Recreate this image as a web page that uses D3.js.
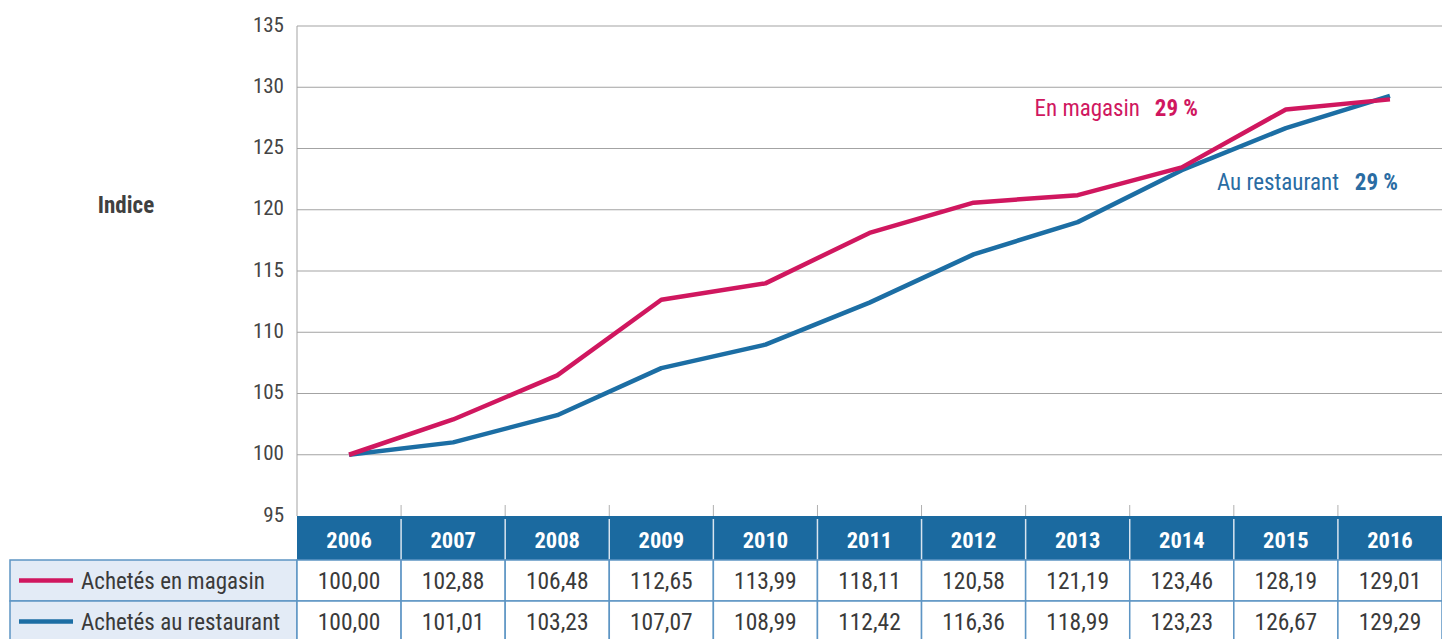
<!DOCTYPE html>
<html>
<head>
<meta charset="utf-8">
<script src="https://cdn.jsdelivr.net/npm/d3@7"></script>
<style>
  body { margin: 0; background: #fff; }
  svg { display: block; font-family: "Liberation Sans Narrow", "Roboto Condensed", "Arial Narrow", sans-serif; }
</style>
</head>
<body>
<svg id="chart" width="1442" height="639"></svg>
<script>
const years = ["2006", "2007", "2008", "2009", "2010", "2011", "2012", "2013", "2014", "2015", "2016"];
const magasin = [100.00, 102.88, 106.48, 112.65, 113.99, 118.11, 120.58, 121.19, 123.46, 128.19, 129.01];
const restaurant = [100.00, 101.01, 103.23, 107.07, 108.99, 112.42, 116.36, 118.99, 123.23, 126.67, 129.29];
const yTicks = [95, 100, 105, 110, 115, 120, 125, 130, 135];
const seriesNames = ["Achetés en magasin", "Achetés au restaurant"];

const pink = "#d0175f";
const blue = "#1c6ea4";
const headBlue = "#1b6aa0";

const svg = d3.select("#chart");
const plotLeft = 297, plotRight = 1442, plotTop = 26, plotBottom = 516;

const x = d3.scaleBand().domain(years).range([plotLeft, plotRight]);
const y = d3.scaleLinear().domain([95, 135]).range([plotBottom, plotTop]);

// grid
svg.append("g").selectAll("line")
  .data(yTicks.slice(1))
  .join("line")
  .attr("x1", plotLeft).attr("x2", plotRight)
  .attr("y1", d => y(d)).attr("y2", d => y(d))
  .attr("stroke", "#a3a3a3").attr("stroke-width", 1);

svg.append("line")
  .attr("x1", plotLeft).attr("x2", plotLeft).attr("y1", plotTop).attr("y2", plotBottom)
  .attr("stroke", "#a3a3a3");

// small tick marks at column boundaries
svg.append("g").selectAll("line")
  .data(years.slice(1))
  .join("line")
  .attr("x1", d => x(d)).attr("x2", d => x(d))
  .attr("y1", plotBottom - 11).attr("y2", plotBottom)
  .attr("stroke", "#b0b0b0");

// y labels
svg.append("g").selectAll("text")
  .data(yTicks)
  .join("text")
  .attr("x", 284).attr("y", d => y(d) - 1)
  .attr("dy", "0.32em")
  .attr("text-anchor", "end")
  .attr("font-size", 21)
  .attr("fill", "#444")
  .text(d => d);

svg.append("text")
  .attr("x", 126).attr("y", 205).attr("dy", "0.35em")
  .attr("text-anchor", "middle")
  .attr("font-size", 23).attr("font-weight", "bold")
  .attr("fill", "#404040")
  .text("Indice");

// lines
const line = d3.line()
  .x((d, i) => x(years[i]) + x.bandwidth() / 2)
  .y(d => y(d));

[[restaurant, blue], [magasin, pink]].forEach(([vals, col]) => {
  svg.append("path")
    .datum(vals)
    .attr("d", line)
    .attr("fill", "none")
    .attr("stroke", col)
    .attr("stroke-width", 4.5)
    .attr("stroke-linejoin", "round");
});

// annotations
const notes = [
  { label: "En magasin", pct: "29 %", xl: 1140, xp: 1198, y: 116, color: pink },
  { label: "Au restaurant", pct: "29 %", xl: 1339, xp: 1398, y: 190, color: "#2a6ca3" }
];
notes.forEach(n => {
  svg.append("text").attr("x", n.xl).attr("y", n.y)
    .attr("text-anchor", "end").attr("font-size", 23).attr("fill", n.color)
    .text(n.label);
  svg.append("text").attr("x", n.xp).attr("y", n.y)
    .attr("text-anchor", "end").attr("font-size", 23).attr("font-weight", "bold")
    .attr("fill", n.color)
    .text(n.pct);
});

// table
const headTop = 516, headH = 44, rowH = 41;
svg.append("rect")
  .attr("x", plotLeft).attr("y", headTop).attr("width", plotRight - plotLeft).attr("height", headH)
  .attr("fill", headBlue);

svg.append("g").selectAll("line")
  .data(years.slice(1))
  .join("line")
  .attr("x1", d => x(d)).attr("x2", d => x(d))
  .attr("y1", headTop + 3).attr("y2", headTop + headH)
  .attr("stroke", "#d8e4ef").attr("stroke-width", 1.5);

svg.append("g").selectAll("text")
  .data(years)
  .join("text")
  .attr("x", d => x(d) + x.bandwidth() / 2)
  .attr("y", headTop + headH / 2 + 2)
  .attr("dy", "0.35em")
  .attr("text-anchor", "middle")
  .attr("font-size", 22.5).attr("font-weight", "bold")
  .attr("fill", "#fff")
  .text(d => d);

const rows = [magasin, restaurant];
const rowCols = [pink, blue];
const fmt = v => v.toFixed(2).replace(".", ",");

rows.forEach((vals, r) => {
  const ry = headTop + headH + r * rowH;
  svg.append("rect")
    .attr("x", 10).attr("y", ry).attr("width", plotLeft - 10).attr("height", rowH)
    .attr("fill", "#e3ebf6").attr("stroke", "#5d95c4").attr("stroke-width", 1.5);
  svg.append("line")
    .attr("x1", 19).attr("x2", 73).attr("y1", ry + rowH / 2).attr("y2", ry + rowH / 2)
    .attr("stroke", rowCols[r]).attr("stroke-width", 4.5);
  svg.append("text")
    .attr("x", 81).attr("y", ry + rowH / 2).attr("dy", "0.35em")
    .attr("font-size", 23).attr("fill", "#3a3a3a")
    .text(seriesNames[r]);
  svg.append("g").selectAll("rect")
    .data(years)
    .join("rect")
    .attr("x", d => x(d)).attr("y", ry)
    .attr("width", x.bandwidth()).attr("height", rowH)
    .attr("fill", "#fff").attr("stroke", "#5d95c4").attr("stroke-width", 1.5);
  svg.append("g").selectAll("text")
    .data(vals)
    .join("text")
    .attr("x", (d, i) => x(years[i]) + x.bandwidth() / 2)
    .attr("y", ry + rowH / 2).attr("dy", "0.35em")
    .attr("text-anchor", "middle")
    .attr("font-size", 23.5).attr("fill", "#3a3a3a")
    .text(fmt);
});
</script>
</body>
</html>
